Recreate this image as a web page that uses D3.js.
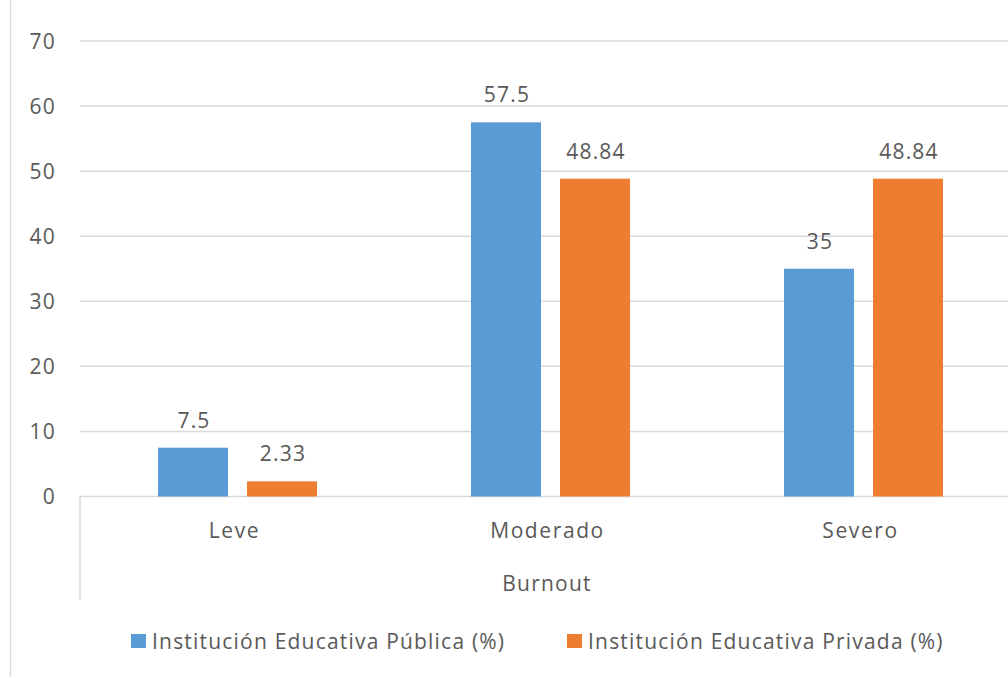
<!DOCTYPE html>
<html>
<head>
<meta charset="utf-8">
<script src="https://cdn.jsdelivr.net/npm/d3@7/dist/d3.min.js"></script>
<style>
  html, body { margin: 0; padding: 0; background: #fff; }
  svg { display: block; }
  text { font-family: "Open Sans", sans-serif; fill: #595959; letter-spacing: 1.2px; }
</style>
</head>
<body>
<svg id="chart" width="1008" height="677"></svg>
<script>
const categories = ["Leve", "Moderado", "Severo"];
const seriesNames = ["Institución Educativa Pública (%)", "Institución Educativa Privada (%)"];
const publica = [7.5, 57.5, 35];
const privada = [2.33, 48.84, 48.84];
const yTicks = [0, 10, 20, 30, 40, 50, 60, 70];
const axisTitle = "Burnout";
const colors = ["#5B9BD5", "#ED7D31"];

const series = [publica, privada];
const svg = d3.select("#chart");

const plotLeft = 80, plotRight = 1019, plotTop = 41, plotBottom = 496.5;

const x0 = d3.scaleBand().domain(categories).range([plotLeft, plotRight]).paddingInner(0).paddingOuter(0);
const x1 = d3.scaleBand().domain([0, 1]).range([78, 78 + 159]).paddingInner(19 / 89);
const y = d3.scaleLinear().domain([0, 70]).range([plotBottom, plotTop]);

// chart border (left)
svg.append("line").attr("x1", 10.5).attr("x2", 10.5).attr("y1", 0).attr("y2", 677)
  .attr("stroke", "#d9d9d9").attr("stroke-width", 1.5);

// gridlines
svg.append("g").selectAll("line").data(yTicks).join("line")
  .attr("x1", plotLeft).attr("x2", 1008)
  .attr("y1", d => y(d)).attr("y2", d => y(d))
  .attr("stroke", "#d9d9d9").attr("stroke-width", 1.5);

// y tick labels
svg.append("g").selectAll("text").data(yTicks).join("text")
  .attr("x", 56).attr("y", d => y(d))
  .attr("dy", "0.36em")
  .attr("text-anchor", "end")
  .style("font-size", "21px")
  .text(d => d);

// bars
const groups = svg.append("g").selectAll("g").data(categories).join("g")
  .attr("transform", d => `translate(${x0(d)},0)`);

groups.each(function(cat, ci) {
  const g = d3.select(this);
  series.forEach((s, si) => {
    g.append("rect")
      .attr("x", x1(si))
      .attr("width", x1.bandwidth())
      .attr("y", y(s[ci]))
      .attr("height", y(0) - y(s[ci]))
      .attr("fill", colors[si]);
    g.append("text")
      .attr("x", x1(si) + x1.bandwidth() / 2 + 1)
      .attr("y", y(s[ci]) - 20)
      .attr("text-anchor", "middle")
      .style("font-size", "21px")
      .text(s[ci]);
  });
});

// left divider of the category axis
svg.append("line").attr("x1", plotLeft).attr("x2", plotLeft).attr("y1", plotBottom).attr("y2", 600)
  .attr("stroke", "#d9d9d9").attr("stroke-width", 1.5);

// category labels
svg.append("g").selectAll("text").data(categories).join("text")
  .attr("x", d => x0(d) + x0.bandwidth() / 2 - 2)
  .attr("y", 538)
  .attr("text-anchor", "middle")
  .style("font-size", "21px")
  .style("letter-spacing", "1.6px")
  .text(d => d);

// axis title
svg.append("text").attr("x", 547).attr("y", 591)
  .attr("text-anchor", "middle").style("font-size", "21px").text(axisTitle);

// legend
const legendX = [131, 567];
const leg = svg.append("g").selectAll("g").data(seriesNames).join("g")
  .attr("transform", (d, i) => `translate(${legendX[i]},634)`);
leg.append("rect").attr("width", 15).attr("height", 14).attr("fill", (d, i) => colors[i]);
leg.append("text").attr("x", 21).attr("y", 15).style("font-size", "21px").text(d => d);
</script>
</body>
</html>
